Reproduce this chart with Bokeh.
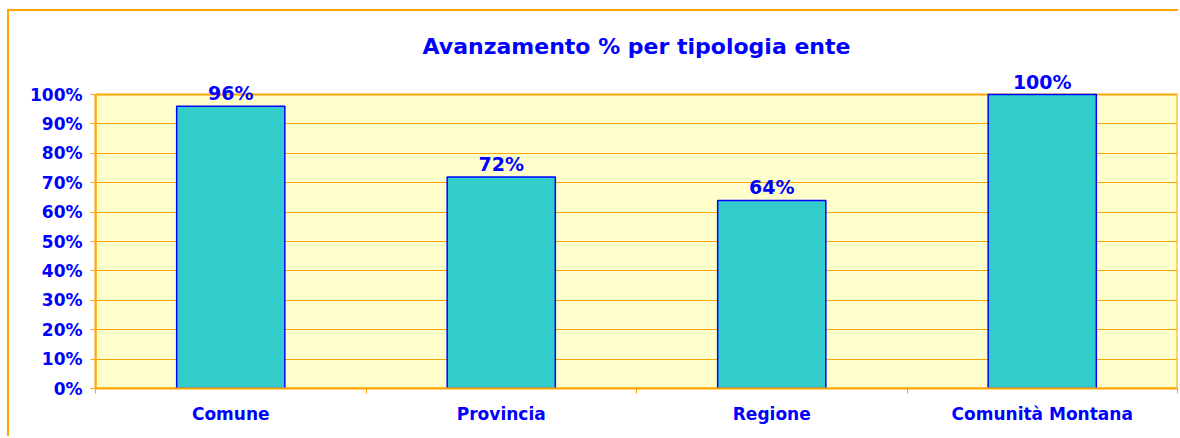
from bokeh.plotting import figure
from bokeh.models import ColumnDataSource, FixedTicker, Range1d, PrintfTickFormatter, BoxAnnotation
from bokeh.core.properties import value
from bokeh.embed import file_html
from bokeh.resources import INLINE

categories = ["Comune", "Provincia", "Regione", "Comunità Montana"]
values = [96, 72, 64, 100]
labels = ["96%", "72%", "64%", "100%"]
y_ticks = [0, 10, 20, 30, 40, 50, 60, 70, 80, 90, 100]

BLUE = "#0000FF"
ORANGE = "#FFA500"
FONT = "DejaVu Sans"

xs = [i + 0.5 for i in range(len(categories))]
src = ColumnDataSource(dict(x=xs, top=values, label=labels))

p = figure(width=1171, height=427, output_backend="svg", toolbar_location=None,
           x_range=Range1d(0, len(categories)), y_range=Range1d(0, 109.9),
           min_border_left=86, min_border_right=3, min_border_top=54, min_border_bottom=50,
           title="Avanzamento % per tipologia ente")
p.styles = {"margin-top": "9px", "margin-left": "7px",
            "border-top": "2px solid " + ORANGE, "border-left": "2px solid " + ORANGE}

p.title.text_color = BLUE
p.title.text_font = FONT
p.title.text_font_size = "22px"
p.title.text_font_style = "bold"
p.title.align = "center"
p.title.offset = -35
p.title.standoff = 14

p.background_fill_color = "white"
p.border_fill_color = "white"
p.outline_line_color = None

# plot area (0..100%) with yellow fill and orange border
p.add_layout(BoxAnnotation(bottom=0, top=y_ticks[-1], level="image",
                           fill_color="#FFFFCC", fill_alpha=1.0,
                           line_color=ORANGE, line_alpha=1.0, line_width=2))

p.vbar(x="x", top="top", width=0.4, bottom=0, source=src,
       fill_color="#33CCCC", line_color=BLUE, line_width=1.5)

p.text(x="x", y="top", text="label", source=src, y_offset=-2,
       text_align="center", text_baseline="bottom",
       text_color=BLUE, text_font=value(FONT), text_font_size="19px",
       text_font_style="bold")

# x axis
p.xaxis.ticker = FixedTicker(ticks=xs, minor_ticks=list(range(len(categories) + 1)))
p.xaxis.major_label_overrides = {x: c for x, c in zip(xs, categories)}
p.xaxis.major_tick_out = 0
p.xaxis.major_tick_in = 0
p.xaxis.minor_tick_out = 5
p.xaxis.minor_tick_in = 0
p.xaxis.minor_tick_line_color = ORANGE
p.xaxis.axis_line_color = ORANGE
p.xaxis.axis_line_width = 2
p.xaxis.major_label_standoff = 10
p.xaxis.major_label_text_color = BLUE
p.xaxis.major_label_text_font = FONT
p.xaxis.major_label_text_font_size = "17px"
p.xaxis.major_label_text_font_style = "bold"

# y axis
p.yaxis.ticker = FixedTicker(ticks=y_ticks)
p.yaxis.bounds = (0, y_ticks[-1])
p.yaxis.formatter = PrintfTickFormatter(format="%d%%")
p.yaxis.major_tick_out = 5
p.yaxis.major_tick_in = 0
p.yaxis.minor_tick_line_color = None
p.yaxis.major_tick_line_color = ORANGE
p.yaxis.axis_line_color = ORANGE
p.yaxis.axis_line_width = 2
p.yaxis.major_label_standoff = 8
p.yaxis.major_label_text_color = BLUE
p.yaxis.major_label_text_font = FONT
p.yaxis.major_label_text_font_size = "17px"
p.yaxis.major_label_text_font_style = "bold"

p.xgrid.grid_line_color = None
p.ygrid.grid_line_color = ORANGE
p.ygrid.grid_line_width = 1

open("out.html", "w").write(file_html(p, INLINE))
